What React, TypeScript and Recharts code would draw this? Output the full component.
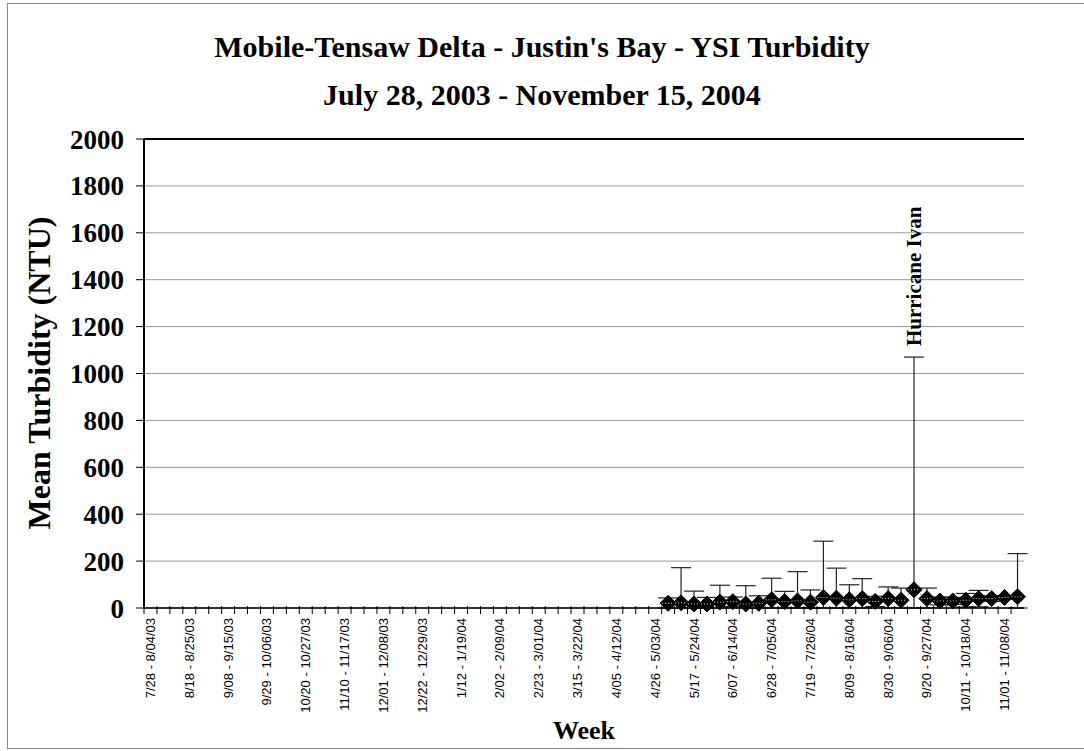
import React from 'react';
import {
  LineChart,
  Line,
  XAxis,
  YAxis,
  CartesianGrid,
  ErrorBar,
  ReferenceLine,
  ReferenceDot,
  Label,
} from 'recharts';

// weekly sampling periods, Monday to Monday
const weeks = [
  '7/28 - 8/04/03', '8/04 - 8/11/03', '8/11 - 8/18/03', '8/18 - 8/25/03',
  '8/25 - 9/01/03', '9/01 - 9/08/03', '9/08 - 9/15/03', '9/15 - 9/22/03',
  '9/22 - 9/29/03', '9/29 - 10/06/03', '10/06 - 10/13/03', '10/13 - 10/20/03',
  '10/20 - 10/27/03', '10/27 - 11/03/03', '11/03 - 11/10/03', '11/10 - 11/17/03',
  '11/17 - 11/24/03', '11/24 - 12/01/03', '12/01 - 12/08/03', '12/08 - 12/15/03',
  '12/15 - 12/22/03', '12/22 - 12/29/03', '12/29 - 1/05/04', '1/05 - 1/12/04',
  '1/12 - 1/19/04', '1/19 - 1/26/04', '1/26 - 2/02/04', '2/02 - 2/09/04',
  '2/09 - 2/16/04', '2/16 - 2/23/04', '2/23 - 3/01/04', '3/01 - 3/08/04',
  '3/08 - 3/15/04', '3/15 - 3/22/04', '3/22 - 3/29/04', '3/29 - 4/05/04',
  '4/05 - 4/12/04', '4/12 - 4/19/04', '4/19 - 4/26/04', '4/26 - 5/03/04',
  '5/03 - 5/10/04', '5/10 - 5/17/04', '5/17 - 5/24/04', '5/24 - 5/31/04',
  '5/31 - 6/07/04', '6/07 - 6/14/04', '6/14 - 6/21/04', '6/21 - 6/28/04',
  '6/28 - 7/05/04', '7/05 - 7/12/04', '7/12 - 7/19/04', '7/19 - 7/26/04',
  '7/26 - 8/02/04', '8/02 - 8/09/04', '8/09 - 8/16/04', '8/16 - 8/23/04',
  '8/23 - 8/30/04', '8/30 - 9/06/04', '9/06 - 9/13/04', '9/13 - 9/20/04',
  '9/20 - 9/27/04', '9/27 - 10/04/04', '10/04 - 10/11/04', '10/11 - 10/18/04',
  '10/18 - 10/25/04', '10/25 - 11/01/04', '11/01 - 11/08/04', '11/08 - 11/15/04',
];

// sonde record starts with this week
const firstSampledWeek = '5/03 - 5/10/04';

// mean turbidity (NTU) per sampled week
const meanNtu = [
  20, 22, 17, 17, 25, 27, 17, 20, 35, 27, 30, 25, 45, 42,
  35, 40, 28, 40, 33, 78, 40, 30, 30, 33, 40, 40, 45, 48,
];

// error bar size (NTU) per sampled week
const errNtu = [
  23, 150, 55, 28, 72, 20, 78, 32, 92, 44, 125, 52, 240, 128,
  64, 85, 22, 50, 52, 992, 45, 17, 15, 29, 35, 12, 8, 184,
];

const yTicks = [0, 200, 400, 600, 800, 1000, 1200, 1400, 1600, 1800, 2000];

const stormWeek = '9/13 - 9/20/04';
const stormName = 'Hurricane Ivan';

const serif = '"Liberation Serif", "Times New Roman", serif';
const sans = '"Liberation Sans", Arial, sans-serif';

const start = weeks.indexOf(firstSampledWeek);
const rows = weeks.map((week, i) => {
  const k = i - start;
  const has = k >= 0 && k < meanNtu.length;
  return {
    week,
    mean: has ? meanNtu[k] : null,
    // lower whisker stops at the x axis
    err: has ? [Math.min(errNtu[k], meanNtu[k]), errNtu[k]] : null,
  };
});
const stormIdx = weeks.indexOf(stormWeek) - start;
const stormTop = meanNtu[stormIdx] + errNtu[stormIdx];

const WeekTick = (props: any) => {
  const { x, y, payload, index } = props;
  const half = payload.offset ?? 6.5;
  const i = payload.index ?? index;
  return (
    <g>
      <line x1={x - half} x2={x - half} y1={y - 4} y2={y + 4} stroke="#000" strokeWidth={1} />
      {i % 3 === 0 && (
        <text
          transform={`translate(${x},${y + 8}) rotate(-90)`}
          textAnchor="end"
          dominantBaseline="central"
          fontFamily={sans}
          fontSize={13}
          fill="#000"
        >
          {payload.value}
        </text>
      )}
    </g>
  );
};

const Diamond = (props: any) => {
  const { cx, cy, payload, index } = props;
  if (payload?.mean == null || cx == null || cy == null) return <g key={`d${index}`} />;
  const s = 8;
  return (
    <g key={`d${index}`}>
      <polygon
        points={`${cx},${cy - s} ${cx + s},${cy} ${cx},${cy + s} ${cx - s},${cy}`}
        fill="#000"
        stroke="#000"
      />
      <line x1={cx - 6} x2={cx + 6} y1={cy} y2={cy} stroke="#ddd" strokeDasharray="1 2" />
    </g>
  );
};

const StormLabel = (props: any) => {
  const { viewBox } = props;
  const x = viewBox.x + (viewBox.width || 0) / 2;
  const y = viewBox.y - 10;
  return (
    <text
      transform={`translate(${x},${y}) rotate(-90)`}
      textAnchor="start"
      dominantBaseline="central"
      fontFamily={serif}
      fontWeight="bold"
      fontSize={21}
      fill="#000"
    >
      {stormName}
    </text>
  );
};

export default function App() {
  return (
    <div style={{ position: 'absolute', left: 0, top: 0, width: 1084, height: 751, background: '#fff', overflow: 'hidden' }}>
      <div
        style={{
          position: 'absolute',
          left: 7,
          top: 3,
          width: 1100,
          height: 744,
          borderLeft: '1px solid #888',
          borderTop: '1px solid #888',
          borderBottom: '1px solid #888',
        }}
      />
      <div
        style={{
          position: 'absolute',
          left: 0,
          top: 23,
          width: 1084,
          textAlign: 'center',
          fontFamily: serif,
          fontWeight: 'bold',
          fontSize: 30,
          lineHeight: '48px',
          color: '#000',
        }}
      >
        <div>Mobile-Tensaw Delta - Justin's Bay - YSI Turbidity</div>
        <div>July 28, 2003 - November 15, 2004</div>
      </div>
      <div style={{ position: 'absolute', left: 0, top: 0 }}>
        <LineChart width={1084} height={751} data={rows} margin={{ top: 139, right: 60, bottom: 0, left: 0 }}>
          <CartesianGrid vertical={false} stroke="#999" strokeWidth={1} />
          <XAxis
            dataKey="week"
            scale="band"
            interval={0}
            tickSize={0}
            tickLine={false}
            axisLine={{ stroke: '#000', strokeWidth: 1.5 }}
            tick={<WeekTick />}
            height={143}
          >
            <Label
              value="Week"
              position="insideBottom"
              offset={12}
              fontFamily={serif}
              fontWeight="bold"
              fontSize={26}
              fill="#000"
            />
          </XAxis>
          <YAxis
            domain={[0, 2000]}
            ticks={yTicks}
            interval={0}
            width={144}
            tickSize={8}
            tickMargin={12}
            axisLine={{ stroke: '#000', strokeWidth: 2 }}
            tickLine={{ stroke: '#000' }}
            tick={{ fontFamily: serif, fontWeight: 'bold', fontSize: 27, fill: '#000' }}
          >
            <Label
              content={() => (
                <text
                  transform="translate(39,373) rotate(-90)"
                  textAnchor="middle"
                  dominantBaseline="central"
                  fontFamily={serif}
                  fontWeight="bold"
                  fontSize={32}
                  fill="#000"
                >
                  Mean Turbidity (NTU)
                </text>
              )}
            />
          </YAxis>
          <YAxis
            yAxisId="frame"
            orientation="right"
            domain={[0, 2000]}
            width={0}
            tick={false}
            tickLine={false}
            axisLine={{ stroke: '#000', strokeWidth: 2 }}
          />
          <ReferenceLine y={2000} stroke="#000" strokeWidth={2} />
          <Line
            dataKey="mean"
            stroke="#888"
            strokeWidth={1}
            strokeDasharray="2 2"
            dot={Diamond}
            activeDot={false}
            connectNulls={false}
            isAnimationActive={false}
          >
            <ErrorBar dataKey="err" direction="y" width={10} stroke="#222" strokeWidth={1.2} />
          </Line>
          <ReferenceDot x={stormWeek} y={stormTop} r={1} fill="none" stroke="none" label={StormLabel} />
        </LineChart>
      </div>
    </div>
  );
}
